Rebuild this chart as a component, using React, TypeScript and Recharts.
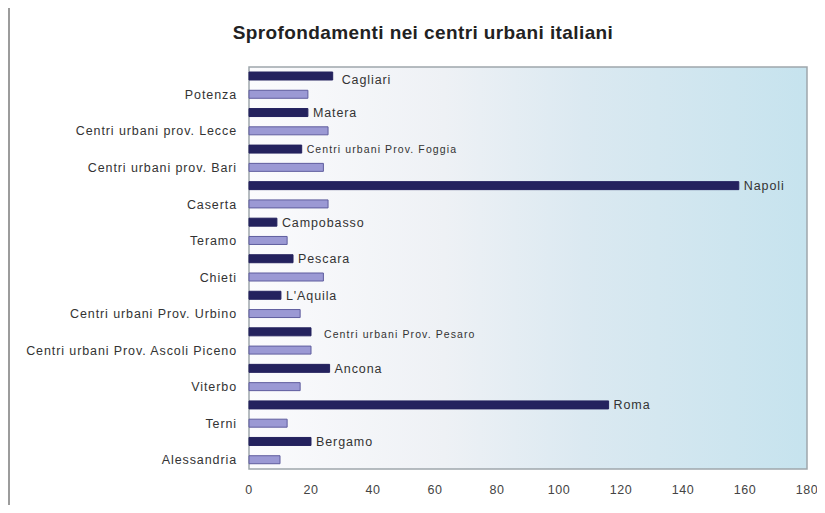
import React from 'react';
import { BarChart, Bar, XAxis, YAxis, Cell, LabelList, ReferenceArea } from 'recharts';

const categories = [
  'Cagliari',
  'Potenza',
  'Matera',
  'Centri urbani prov. Lecce',
  'Centri urbani Prov. Foggia',
  'Centri urbani prov. Bari',
  'Napoli',
  'Caserta',
  'Campobasso',
  'Teramo',
  'Pescara',
  'Chieti',
  "L'Aquila",
  'Centri urbani Prov. Urbino',
  'Centri urbani Prov. Pesaro',
  'Centri urbani Prov. Ascoli Piceno',
  'Ancona',
  'Viterbo',
  'Roma',
  'Terni',
  'Bergamo',
  'Alessandria',
];

const values = [27, 19, 19, 25.5, 17, 24, 158, 25.5, 9, 12.3, 14.2, 24, 10.3, 16.5, 20, 20, 26, 16.5, 116, 12.3, 20, 10];

const kinds = [
  'dark', 'light', 'dark', 'light', 'dark', 'light', 'dark', 'light', 'dark', 'light', 'dark',
  'light', 'dark', 'light', 'dark', 'light', 'dark', 'light', 'dark', 'light', 'dark', 'light',
];

const xTicks = [0, 20, 40, 60, 80, 100, 120, 140, 160, 180];

const title = 'Sprofondamenti nei centri urbani italiani';

const data = categories.map((name, i) => ({ name, value: values[i], kind: kinds[i] }));

const FONT = '"Liberation Sans", Arial, Helvetica, sans-serif';
const DARK = '#24225e';
const LIGHT = '#9b99d4';
const LIGHT_STROKE = '#5f5d9e';

// label styling tweaks (style only)
const smallLabels = new Set(['Centri urbani Prov. Foggia', 'Centri urbani Prov. Pesaro']);
const labelDx: Record<string, number> = { Cagliari: 9, 'Centri urbani Prov. Pesaro': 13 };
const labelDy: Record<string, number> = { Cagliari: 3, 'Centri urbani Prov. Pesaro': 3 };

const YTick = (props: any) => {
  const { x, y, payload } = props;
  const idx = payload.index;
  if (kinds[idx] !== 'light') return <g />;
  return (
    <text
      x={x}
      y={y}
      dy={4.5}
      textAnchor="end"
      fontFamily={FONT}
      fontSize={12.5}
      letterSpacing={0.9}
      fill="#333"
    >
      {payload.value}
    </text>
  );
};

const renderLabel = (props: any) => {
  const { x, y, width, height, index } = props;
  const d = data[index];
  if (!d || d.kind !== 'dark') return <g key={`l-${index}`} />;
  const small = smallLabels.has(d.name);
  const dx = labelDx[d.name] ?? 5;
  const dy = labelDy[d.name] ?? 0;
  return (
    <text
      key={`l-${index}`}
      x={x + width + dx}
      y={y + height / 2 + dy}
      dy={small ? 3.5 : 4.5}
      fontFamily={FONT}
      fontSize={small ? 10.5 : 12.5}
      letterSpacing={small ? 1.1 : 0.9}
      fill="#333"
    >
      {d.name}
    </text>
  );
};

export default function App() {
  return (
    <div
      style={{
        position: 'relative',
        width: 825,
        height: 513,
        margin: -8,
        background: '#ffffff',
        overflow: 'hidden',
        fontFamily: FONT,
      }}
    >
      <div
        style={{
          position: 'absolute',
          left: 7,
          top: 2,
          width: 840,
          height: 530,
          borderTop: '2px solid #9c9c9c',
          borderLeft: '3px solid #9c9c9c',
          boxSizing: 'border-box',
        }}
      />
      <div
        style={{
          position: 'absolute',
          left: 423,
          top: 21,
          transform: 'translateX(-50%)',
          whiteSpace: 'nowrap',
          fontFamily: FONT,
          fontWeight: 'bold',
          fontSize: 19,
          letterSpacing: 0.4,
          color: '#222',
          lineHeight: '24px',
        }}
      >
        {title}
      </div>
      <div style={{ position: 'absolute', left: 0, top: 0 }}>
        <BarChart
          width={825}
          height={513}
          data={data}
          layout="vertical"
          margin={{ top: 67, right: 18, bottom: 0, left: 0 }}
          barSize={8}
        >
          <defs>
            <linearGradient id="bgGrad" x1="0" y1="0" x2="1" y2="0">
              <stop offset="0%" stopColor="#fbfbfd" />
              <stop offset="35%" stopColor="#eef1f5" />
              <stop offset="60%" stopColor="#dbe9f1" />
              <stop offset="100%" stopColor="#c6e3ee" />
            </linearGradient>
          </defs>
          <XAxis
            type="number"
            domain={[0, 180]}
            ticks={xTicks}
            height={44}
            axisLine={false}
            tickLine={false}
            tickSize={0}
            tickMargin={16}
            interval={0}
            tick={{ fontFamily: FONT, fontSize: 12.5, fill: '#444', letterSpacing: 0.5 }}
          />
          <YAxis
            type="category"
            dataKey="name"
            width={249}
            axisLine={false}
            tickLine={false}
            tickSize={0}
            tickMargin={12}
            interval={0}
            tick={<YTick />}
          />
          <ReferenceArea
            x1={0}
            x2={180}
            fill="url(#bgGrad)"
            fillOpacity={1}
            stroke="#9ea6ac"
            strokeWidth={1.5}
          />
          <Bar dataKey="value" isAnimationActive={false}>
            {data.map((d, i) => (
              <Cell
                key={`c-${i}`}
                fill={d.kind === 'dark' ? DARK : LIGHT}
                stroke={d.kind === 'dark' ? DARK : LIGHT_STROKE}
                strokeWidth={1}
              />
            ))}
            <LabelList dataKey="name" content={renderLabel} />
          </Bar>
        </BarChart>
      </div>
    </div>
  );
}
